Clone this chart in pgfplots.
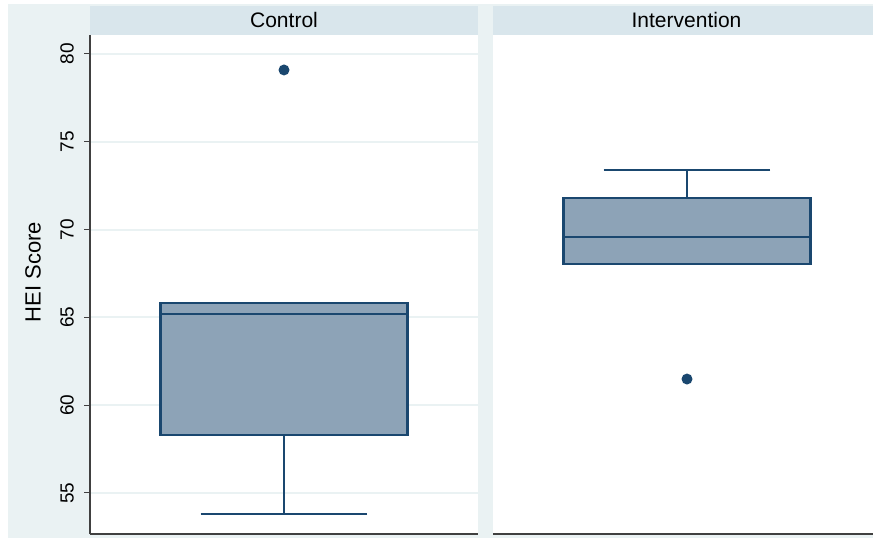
\documentclass[border=0pt]{standalone}
\usepackage{pgfplots}
\pgfplotsset{compat=1.18}
\usepgfplotslibrary{statistics}
\usepackage{fontspec}
\setmainfont{Liberation Sans}

\definecolor{stnavy}{HTML}{1A476F}
\definecolor{stfill}{HTML}{8DA3B7}
\definecolor{stbg}{HTML}{EAF2F3}
\definecolor{sthead}{HTML}{D9E6EC}

\pgfplotsset{
  panel/.style={
    scale only axis, width=388bp, height=499bp,
    xmin=0, xmax=1, ymin=52.665, ymax=81.082,
    ytick={55,60,...,80}, xtick=\empty,
    ymajorgrids, major grid style={color=stbg, line width=2bp},
    axis background/.style={fill=white},
    tick align=outside, major tick length=6bp,
    every tick/.style={black!75, line width=1bp},
    axis x line*=bottom,
    axis line style={black!75, line width=1.2bp, -},
    boxplot/draw direction=y,
    /pgf/number format/assume math mode=true,
    yticklabel style={font=\fontsize{19bp}{21bp}\selectfont, rotate=90, anchor=south, inner sep=0pt, yshift=10bp},
  },
  box/.style={draw=stnavy, fill=stfill, line width=2.7bp, solid,
    boxplot/every whisker/.style={line width=2.7bp},
    boxplot/every median/.style={line width=2.7bp},
    mark=*, mark size=4.2bp, mark options={fill=stnavy, draw=stnavy, line width=2.4bp}},
}

\begin{document}
\begin{tikzpicture}
\useasboundingbox (0,0) rectangle (873bp,538bp);
\clip (0,0) rectangle (873bp,538bp);
\fill[stbg] (8bp,0) rectangle (873bp,534bp);

% Control
\begin{axis}[panel, at={(90bp,4bp)}, anchor=south west, axis y line*=left]
\addplot[box, boxplot prepared={
  lower whisker=53.80, lower quartile=58.30, median=65.19,
  upper quartile=65.82, upper whisker=65.82,
  draw position=0.5, box extend=0.637, whisker extend=0.43}]
  coordinates {(0,79.09)};
\end{axis}

% Intervention
\begin{axis}[panel, at={(493bp,4bp)}, anchor=south west, axis y line=none,
  yticklabel={}, major tick length=0pt]
\addplot[box, boxplot prepared={
  lower whisker=68.04, lower quartile=68.04, median=69.58,
  upper quartile=71.80, upper whisker=73.39,
  draw position=0.5, box extend=0.637, whisker extend=0.43}]
  coordinates {(0,61.49)};
\end{axis}

\fill[sthead] (90bp,503bp) rectangle (478bp,532bp);
\fill[sthead] (493bp,503bp) rectangle (881bp,532bp);
\node[font=\fontsize{21bp}{23bp}\selectfont] at (284bp,518bp) {Control};
\node[font=\fontsize{21bp}{23bp}\selectfont] at (686.5bp,518bp) {Intervention};
\node[rotate=90, font=\fontsize{22bp}{24bp}\selectfont] at (33bp,266bp) {HEI Score};
\end{tikzpicture}
\end{document}
